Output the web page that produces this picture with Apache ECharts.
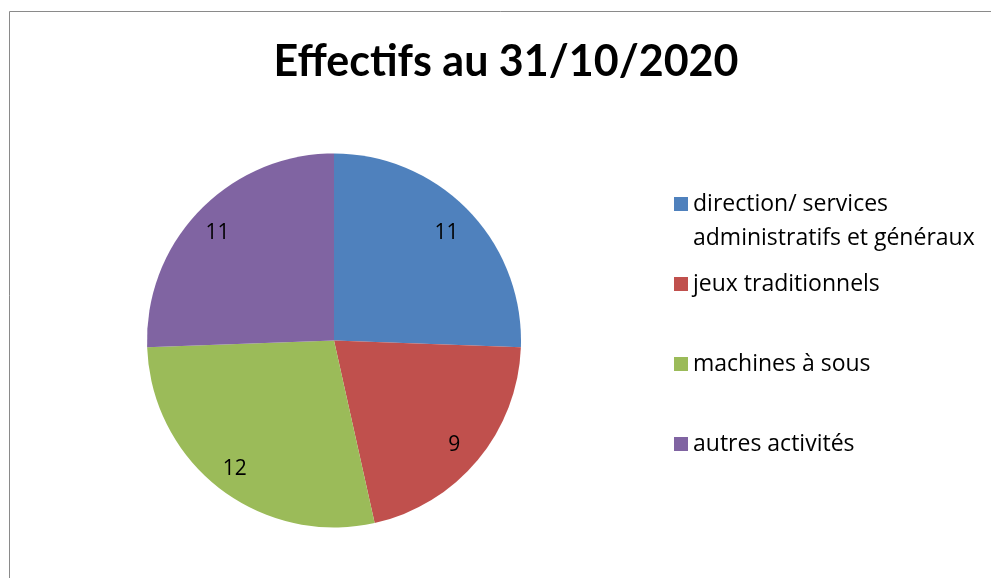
<!DOCTYPE html>
<html>
<head>
<meta charset="utf-8">
<script src="https://cdn.jsdelivr.net/npm/echarts@6/dist/echarts.min.js"></script>
<style>
  html, body { margin: 0; padding: 0; background: #fff; }
  #chart { width: 991px; height: 578px; }
</style>
</head>
<body>
<div id="chart"></div>
<script>
const titleText = 'Effectifs au 31/10/2020';
const categories = [
    'direction/ services\nadministratifs et généraux',
    'jeux traditionnels',
    'machines à sous',
    'autres activités'
];
const values = [11, 9, 12, 11];
const colors = ['#4F81BD', '#C0504D', '#9BBB59', '#8064A2'];

// marker centres of the legend entries (Excel spreads them out)
const legendCenters = [204, 284, 364, 444];
const LINE_H = 34;

const myChart = echarts.init(document.getElementById('chart'));

const pieData = categories.map(function (name, i) {
    return { name: name, value: values[i], itemStyle: { color: colors[i] } };
});

// one legend per entry so each can sit at its own height;
// multi-line names get blank lines on top so the marker lines up with line 1
const legends = categories.map(function (name, i) {
    const extra = name.split('\n').length - 1;
    const pad = new Array(extra + 1).join(' \n');
    const total = (2 * extra + 1) * LINE_H;
    return {
        data: [name],
        left: 674,
        top: legendCenters[i] - total / 2,
        padding: 0,
        orient: 'vertical',
        icon: 'rect',
        itemWidth: 14,
        itemHeight: 14,
        selectedMode: false,
        formatter: function (n) { return pad + n; },
        textStyle: {
            fontFamily: 'Open Sans',
            fontSize: 23,
            color: '#000',
            lineHeight: LINE_H
        }
    };
});

const option = {
    animation: false,
    backgroundColor: '#fff',
    title: {
        text: titleText,
        left: 501,
        top: 36,
        textAlign: 'center',
        textStyle: {
            fontFamily: 'Lato',
            fontSize: 43,
            fontWeight: 'bold',
            color: '#000'
        }
    },
    legend: legends,
    graphic: [{
        type: 'rect',
        shape: { x: 9.5, y: 11.5, width: 1200, height: 800 },
        style: { fill: null, stroke: '#8a8a8a', lineWidth: 1 },
        silent: true
    }],
    series: [
        {
            type: 'pie',
            center: [334, 340.5],
            radius: [0, 187],
            startAngle: 90,
            clockwise: true,
            label: { show: false },
            labelLine: { show: false },
            emphasis: { disabled: true },
            itemStyle: { borderWidth: 0 },
            data: pieData
        },
        {
            // transparent ring, only carries the value labels at Excel's position
            type: 'pie',
            center: [332, 343],
            radius: [125, 187],
            startAngle: 90,
            clockwise: true,
            silent: true,
            itemStyle: { color: 'rgba(0,0,0,0)' },
            label: {
                show: true,
                position: 'inside',
                formatter: '{c}',
                fontFamily: 'Open Sans',
                fontSize: 21,
                color: '#000'
            },
            labelLine: { show: false },
            data: categories.map(function (name, i) {
                return { name: name, value: values[i] };
            })
        }
    ]
};

myChart.setOption(option);
</script>
</body>
</html>
